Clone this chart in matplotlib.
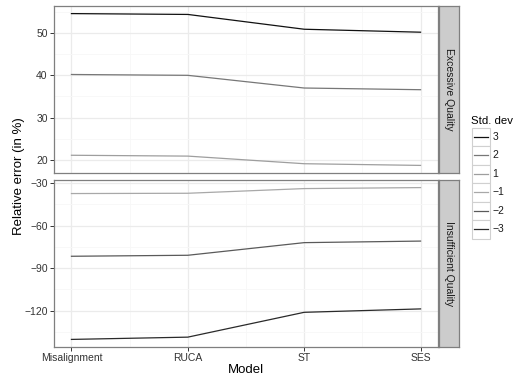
import matplotlib.pyplot as plt
from matplotlib.patches import Rectangle

plt.rcParams['font.family'] = ['Liberation Sans', 'DejaVu Sans']

# Datos
models = ['Misalignment', 'RUCA', 'ST', 'SES']
std_levels = ['3', '2', '1', '\u22121', '\u22122', '\u22123']
excessive = {
    '3': [54.6, 54.4, 50.9, 50.2],
    '2': [40.2, 40.0, 37.0, 36.6],
    '1': [21.1, 20.9, 19.1, 18.7],
}
insufficient = {
    '\u22121': [-37.4, -37.2, -33.9, -33.2],
    '\u22122': [-81.6, -80.9, -72.0, -70.9],
    '\u22123': [-140.2, -138.6, -121.1, -118.7],
}
colors = {'3': '#111111', '2': '#777777', '1': '#9e9e9e',
          '\u22121': '#a8a8a8', '\u22122': '#5a5a5a', '\u22123': '#2a2a2a'}

W, H = 519, 379
fig = plt.figure(figsize=(W / 100, H / 100), dpi=100)


def px_axes(x0, y0, x1, y1):
    return fig.add_axes([x0 / W, 1 - y1 / H, (x1 - x0) / W, (y1 - y0) / H])


xs = list(range(1, len(models) + 1))
panels = [
    (6, 173, excessive, [20, 30, 40, 50], [25, 35, 45, 55], 'Excessive Quality'),
    (180, 347, insufficient, [-120, -90, -60, -30], [-135, -105, -75, -45], 'Insufficient Quality'),
]

for i, (y0, y1, data, majors, minors, strip) in enumerate(panels):
    ax = px_axes(54, y0, 438, y1)
    allv = [v for vals in data.values() for v in vals]
    lo, hi = min(allv), max(allv)
    pad = (hi - lo) * 0.05
    ax.set_ylim(lo - pad, hi + pad)
    ax.set_xlim(1 - 0.15, 4 + 0.15)
    ax.set_yticks(majors)
    ax.set_yticks(minors, minor=True)
    ax.set_xticks(xs)
    ax.set_xticks([1.5, 2.5, 3.5], minor=True)
    ax.grid(which='major', color='#ebebeb', lw=0.9)
    ax.grid(which='minor', color='#f7f7f7', lw=0.6)
    ax.set_axisbelow(True)
    for key, vals in data.items():
        ax.plot(xs, vals, color=colors[key], lw=0.9)
    for s in ax.spines.values():
        s.set_color('#7f7f7f')
        s.set_linewidth(0.9)
    ax.tick_params(which='major', length=3, width=0.7, color='#333333',
                   labelsize=7.5, labelcolor='#333333', pad=1.5)
    ax.tick_params(which='minor', length=0)
    ax.set_yticklabels([str(v).replace('-', '\u2212') for v in majors])
    if i == 0:
        ax.set_xticklabels([])
        ax.tick_params(axis='x', which='major', length=0)
    else:
        ax.set_xticklabels(models)
    # etiqueta de faceta
    sax = px_axes(439, y0, 459, y1)
    sax.set_xticks([])
    sax.set_yticks([])
    sax.set_facecolor('#cccccc')
    for s in sax.spines.values():
        s.set_color('#7f7f7f')
        s.set_linewidth(0.9)
    sax.text(0.5, 0.5, strip, rotation=270, ha='center', va='center',
             fontsize=7.5, color='#1a1a1a', transform=sax.transAxes)

fig.text(246 / W, 1 - 370 / H, 'Model', ha='center', va='center', fontsize=9.5)
fig.text(19 / W, 1 - 176 / H, 'Relative error (in %)', ha='center', va='center',
         rotation=90, fontsize=9.5)

# Leyenda
lax = px_axes(472, 127.5, 490, 238.5)
lax.set_xlim(0, 1)
lax.set_ylim(len(std_levels), 0)
lax.axis('off')
for j, key in enumerate(std_levels):
    lax.add_patch(Rectangle((0, j), 1, 1, facecolor='white', edgecolor='#d0d0d0',
                            lw=0.8, clip_on=False))
    lax.plot([0.1, 0.9], [j + 0.5, j + 0.5], color=colors[key], lw=0.9)
    lax.text(1.15, j + 0.5, key, ha='left', va='center', fontsize=7.5, color='#1a1a1a',
             clip_on=False)
fig.text(471 / W, 1 - 120.5 / H, 'Std. dev', ha='left', va='center', fontsize=8.2)

fig.savefig('out.png', dpi=100)
